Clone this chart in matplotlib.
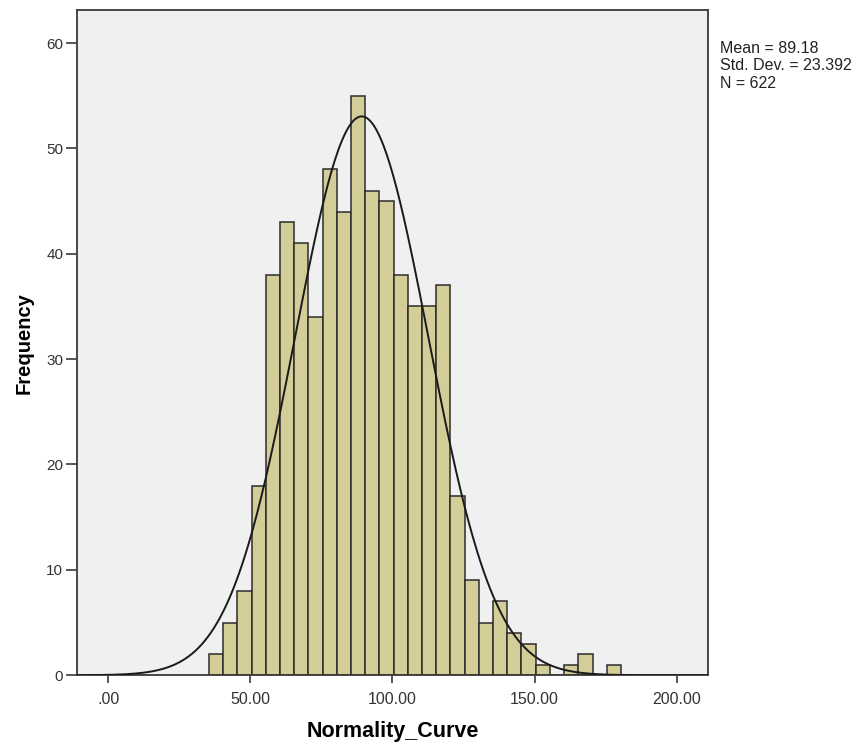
import numpy as np
import matplotlib
matplotlib.use("Agg")
import matplotlib.pyplot as plt

plt.rcParams['font.family'] = ['Liberation Sans', 'DejaVu Sans']

# histogram (bin width 5)
bin_start = 35.4
bin_width = 5.0
counts = [2, 5, 8, 18, 38, 43, 41, 34, 48, 44, 55, 46, 45, 38, 35, 35, 37,
          17, 9, 5, 7, 4, 3, 1, 0, 1, 2, 0, 1]
mean_val = 89.18
std_val = 23.392
n_val = 622

xticks = [0, 50, 100, 150, 200]
xtick_labels = [".00", "50.00", "100.00", "150.00", "200.00"]
yticks = [0, 10, 20, 30, 40, 50, 60]

fig = plt.figure(figsize=(8.56, 7.42), dpi=100)
ax = fig.add_axes([0.090, 0.090, 0.737, 0.896])
ax.set_facecolor('#f0f0f0')

lefts = bin_start + bin_width * np.arange(len(counts))
ax.bar(lefts, counts, width=bin_width, align='edge', color='#d3ce97',
       edgecolor='#2b2b2b', linewidth=1.1, zorder=2)

# normal curve scaled to counts
xs = np.linspace(-11, 211, 600)
ys = n_val * bin_width / (std_val * np.sqrt(2 * np.pi)) * np.exp(-0.5 * ((xs - mean_val) / std_val) ** 2)
ax.plot(xs, ys, color='#1a1a1a', lw=1.4, zorder=3)

ax.set_xlim(-11, 211)
ax.set_ylim(0, 63.1)
ax.set_xticks(xticks)
ax.set_xticklabels(xtick_labels)
ax.set_yticks(yticks)

for s in ax.spines.values():
    s.set_color('#3a3a3a')
    s.set_linewidth(1.3)

ax.tick_params(axis='both', colors='#3a3a3a', labelcolor='#333333', width=1.2)
ax.tick_params(axis='y', length=8, pad=2, labelsize=11)
ax.tick_params(axis='x', length=6, pad=6, labelsize=11.5)

ax.set_xlabel('Normality_Curve', fontsize=15.5, fontweight='bold', labelpad=10)
ax.set_ylabel('Frequency', fontsize=14.5, fontweight='bold', labelpad=9)

# stats box lines (SPSS spacing is a bit uneven)
stat_lines = ["Mean = %.2f" % mean_val, "Std. Dev. = %.3f" % std_val, "N = %d" % n_val]
stat_y = [0.934, 0.912, 0.888]
for txt, yy in zip(stat_lines, stat_y):
    fig.text(0.841, yy, txt, fontsize=11.5, va='center', ha='left', color='#222222')

fig.savefig('out.png', dpi=100)
